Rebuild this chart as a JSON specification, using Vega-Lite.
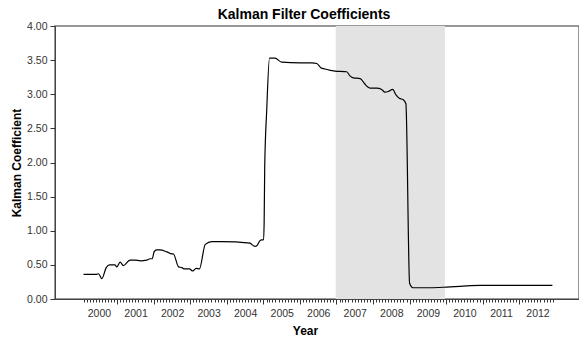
{
  "$schema": "https://vega.github.io/schema/vega-lite/v6.json",
  "width": 524,
  "height": 273,
  "autosize": "none",
  "padding": {"left": 55, "top": 26, "right": 0, "bottom": 42},
  "background": "white",
  "title": {
    "text": "Kalman Filter Coefficients",
    "fontSize": 14,
    "fontWeight": "bold",
    "font": "Liberation Sans",
    "color": "#000",
    "anchor": "middle",
    "dx": -13,
    "dy": 9,
    "offset": 8
  },
  "config": {
    "font": "Liberation Sans",
    "view": {"stroke": "#777", "strokeWidth": 1.5},
    "axis": {
      "labelFont": "Liberation Sans",
      "labelFontSize": 10.5,
      "labelColor": "#333",
      "titleFont": "Liberation Sans",
      "titleFontSize": 12,
      "titleFontWeight": "bold",
      "titleColor": "#000",
      "domainColor": "#444",
      "tickColor": "#333",
      "grid": false
    }
  },
  "resolve": {"axis": {"x": "independent"}},
  "layer": [
    {
      "data": {"values": [{"start": "2006-12-25", "end": "2009-12-20"}]},
      "mark": {"type": "rect", "color": "#e3e3e3"},
      "encoding": {
        "x": {
          "field": "start",
          "type": "temporal",
          "scale": {"type": "utc", "domain": [{"year": 1999, "month": 4, "date": 20, "utc": true}, {"year": 2013, "month": 8, "date": 21, "utc": true}]},
          "axis": {
            "orient": "bottom",
            "title": null,
            "labels": false,
            "domain": false,
            "tickCount": {"interval": "month", "step": 1},
            "tickSize": 3,
            "tickWidth": 1,
            "tickOpacity": {"condition": {"test": "datum.value < utc(2000,1,1) || datum.value > utc(2012,11,2)", "value": 0}, "value": 1}
          }
        },
        "x2": {"field": "end"}
      }
    },
    {
      "data": {"values": [
        {"date": "2000-01-30", "k": 0.36},
        {"date": "2000-06-10", "k": 0.36},
        {"date": "2000-06-28", "k": 0.37},
        {"date": "2000-07-31", "k": 0.30},
        {"date": "2000-09-13", "k": 0.46},
        {"date": "2000-10-15", "k": 0.50},
        {"date": "2000-12-09", "k": 0.50},
        {"date": "2000-12-28", "k": 0.47},
        {"date": "2001-01-30", "k": 0.54},
        {"date": "2001-03-03", "k": 0.49},
        {"date": "2001-05-08", "k": 0.57},
        {"date": "2001-06-29", "k": 0.57},
        {"date": "2001-08-19", "k": 0.56},
        {"date": "2001-10-23", "k": 0.57},
        {"date": "2001-11-25", "k": 0.59},
        {"date": "2001-12-17", "k": 0.59},
        {"date": "2002-01-04", "k": 0.69},
        {"date": "2002-01-30", "k": 0.72},
        {"date": "2002-03-04", "k": 0.72},
        {"date": "2002-05-12", "k": 0.69},
        {"date": "2002-07-02", "k": 0.66},
        {"date": "2002-07-16", "k": 0.66},
        {"date": "2002-09-06", "k": 0.47},
        {"date": "2002-10-09", "k": 0.46},
        {"date": "2002-11-03", "k": 0.44},
        {"date": "2002-12-24", "k": 0.44},
        {"date": "2003-01-26", "k": 0.41},
        {"date": "2003-02-28", "k": 0.45},
        {"date": "2003-04-02", "k": 0.44},
        {"date": "2003-05-31", "k": 0.80},
        {"date": "2003-08-04", "k": 0.84},
        {"date": "2003-10-28", "k": 0.84},
        {"date": "2004-08-22", "k": 0.82},
        {"date": "2004-09-06", "k": 0.80},
        {"date": "2004-10-09", "k": 0.77},
        {"date": "2004-10-27", "k": 0.78},
        {"date": "2004-12-02", "k": 0.86},
        {"date": "2005-01-01", "k": 0.87},
        {"date": "2005-01-08", "k": 1.10},
        {"date": "2005-01-14", "k": 1.93},
        {"date": "2005-02-03", "k": 2.77},
        {"date": "2005-03-03", "k": 3.53},
        {"date": "2005-04-27", "k": 3.53},
        {"date": "2005-07-02", "k": 3.47},
        {"date": "2006-01-04", "k": 3.46},
        {"date": "2006-05-01", "k": 3.46},
        {"date": "2006-06-18", "k": 3.45},
        {"date": "2006-07-28", "k": 3.39},
        {"date": "2006-09-09", "k": 3.37},
        {"date": "2006-10-31", "k": 3.35},
        {"date": "2006-12-16", "k": 3.34},
        {"date": "2007-04-13", "k": 3.33},
        {"date": "2007-05-16", "k": 3.27},
        {"date": "2007-06-18", "k": 3.24},
        {"date": "2007-08-26", "k": 3.23},
        {"date": "2007-10-12", "k": 3.15},
        {"date": "2007-11-07", "k": 3.11},
        {"date": "2007-12-03", "k": 3.09},
        {"date": "2008-02-06", "k": 3.09},
        {"date": "2008-03-28", "k": 3.07},
        {"date": "2008-04-30", "k": 3.03},
        {"date": "2008-06-02", "k": 3.04},
        {"date": "2008-07-16", "k": 3.07},
        {"date": "2008-08-18", "k": 2.99},
        {"date": "2008-09-20", "k": 2.94},
        {"date": "2008-10-30", "k": 2.92},
        {"date": "2008-11-25", "k": 2.86},
        {"date": "2009-01-01", "k": 0.23},
        {"date": "2009-02-03", "k": 0.165},
        {"date": "2009-07-24", "k": 0.165},
        {"date": "2010-01-08", "k": 0.175},
        {"date": "2010-06-21", "k": 0.19},
        {"date": "2010-12-05", "k": 0.20},
        {"date": "2011-11-02", "k": 0.20},
        {"date": "2012-11-28", "k": 0.20}
      ]},
      "mark": {"type": "line", "color": "#000", "strokeWidth": 1.2, "interpolate": "monotone"},
      "encoding": {
        "x": {
          "field": "date",
          "type": "temporal",
          "scale": {"type": "utc", "domain": [{"year": 1999, "month": 4, "date": 20, "utc": true}, {"year": 2013, "month": 8, "date": 21, "utc": true}]},
          "axis": {
            "orient": "bottom",
            "title": "Year",
            "titlePadding": 7,
            "titleX": 250,
            "values": [
              {"year": 2000, "utc": true}, {"year": 2001, "utc": true}, {"year": 2002, "utc": true},
              {"year": 2003, "utc": true}, {"year": 2004, "utc": true}, {"year": 2005, "utc": true},
              {"year": 2006, "utc": true}, {"year": 2007, "utc": true}, {"year": 2008, "utc": true},
              {"year": 2009, "utc": true}, {"year": 2010, "utc": true}, {"year": 2011, "utc": true},
              {"year": 2012, "utc": true}
            ],
            "format": "%Y",
            "labelOffset": 18.3,
            "labelOverlap": false,
            "labelFlush": false,
            "labelPadding": 4,
            "tickSize": 5,
            "tickWidth": 1,
            "tickOpacity": {"condition": {"test": "utcyear(datum.value) < 2001", "value": 0}, "value": 1}
          }
        },
        "y": {
          "field": "k",
          "type": "quantitative",
          "scale": {"domain": [0, 4]},
          "axis": {
            "title": "Kalman Coefficient",
            "values": [0, 0.5, 1, 1.5, 2, 2.5, 3, 3.5, 4],
            "format": ".2f",
            "tickSize": 5,
            "labelPadding": 3,
            "titlePadding": 3
          }
        }
      }
    }
  ]
}
